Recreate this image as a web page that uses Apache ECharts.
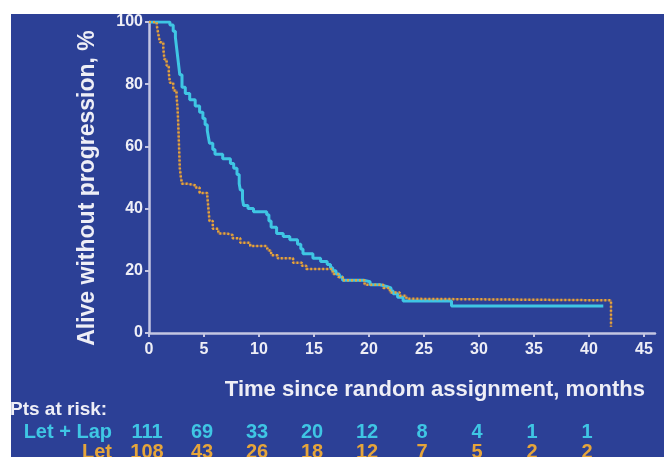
<!DOCTYPE html>
<html><head><meta charset="utf-8">
<script src="https://cdn.jsdelivr.net/npm/echarts@6/dist/echarts.min.js"></script>
<style>html,body{margin:0;padding:0;background:#fff;}#c{width:664px;height:457px;}</style>
</head><body><div id="c"></div>
<script>
// Kaplan-Meier curves: [months, % alive without progression]
var letLap = [[0,100],[1.6,100],[1.9,99],[2.2,97],[2.4,95],[2.5,92],[2.6,89],[2.7,86],[2.8,83],[3.0,79],[3.3,77],[3.7,75],[4.2,73],[4.6,71],[4.9,69],[5.1,67],[5.3,65],[5.4,63],[5.5,61],[5.8,59],[6.0,57.5],[6.7,56],[7.4,54.5],[7.7,53],[8.0,51],[8.2,48],[8.3,46],[8.5,43],[8.6,41],[9.0,40],[9.5,39],[10.7,38],[10.9,36],[11.1,34],[11.6,32],[12.2,31],[12.8,30],[13.5,28.5],[13.8,27],[14.0,25.5],[14.9,24],[15.6,23],[16.2,22],[16.5,21],[16.7,20],[17.0,19],[17.3,18],[17.6,17],[19.5,16.5],[20.1,15.5],[21.0,15],[21.6,14.5],[22.0,13.5],[22.2,12.6],[22.6,11.5],[23.1,10.3],[27.5,8.7],[41.3,8.7]];
var letOnly = [[0,100],[0.5,100],[0.7,99],[0.8,97],[0.9,95],[1.0,93.5],[1.3,91.5],[1.4,88],[1.6,86],[1.8,83.5],[1.9,80.5],[2.2,78],[2.5,76.5],[2.6,72],[2.65,68],[2.7,63],[2.75,58],[2.8,53],[2.9,50],[3.0,48],[3.5,47.5],[4.2,46.8],[4.6,45],[5.3,44],[5.4,40],[5.5,36],[5.8,33.5],[6.3,32],[7.1,31.5],[7.6,30.5],[8.3,29],[9.2,28],[10.7,28],[10.8,26.5],[11.1,25],[11.7,24],[13.1,22.6],[13.9,21.6],[14.3,20.6],[16.7,19],[17.2,18],[17.6,17],[19.6,15.5],[21.3,14.5],[21.9,13],[22.8,12],[23.4,11],[23.7,10.5],[42,10.5],[42,2]];
var riskMonths = [0,5,10,15,20,25,30,35,40];
var riskLetLap = [111,69,33,20,12,8,4,1,1];
var riskLet = [108,43,26,18,12,7,5,2,2];
var xTitle = 'Time since random assignment, months';
var yTitle = 'Alive without progression, %';

var FONT = '"Liberation Sans", Arial, sans-serif';
var BG = '#2c4096', CYAN = '#3fc6e4', ORANGE = '#e6a53a', AXIS = '#c4c6e2', TXT = '#eeeef6';
var chart = echarts.init(document.getElementById('c'));
var option = {
  backgroundColor: '#ffffff',
  animation: false,
  grid: {left: 149, right: 9, top: 22, bottom: 124},
  xAxis: {type: 'value', min: 0, max: 46, interval: 5,
    axisLine: {lineStyle: {color: AXIS, width: 2.5}},
    axisTick: {length: 4, lineStyle: {color: AXIS, width: 2}},
    axisLabel: {color: TXT, fontFamily: FONT, fontWeight: 'bold', fontSize: 16, margin: 9, showMaxLabel: false},
    splitLine: {show: false}},
  yAxis: {type: 'value', min: 0, max: 100, interval: 20,
    axisLine: {show: true, lineStyle: {color: AXIS, width: 2.5}},
    axisTick: {show: true, length: 4, lineStyle: {color: AXIS, width: 2}},
    axisLabel: {color: TXT, fontFamily: FONT, fontWeight: 'bold', fontSize: 16, margin: 6},
    splitLine: {show: false}},
  series: [
    {type: 'line', step: 'end', data: letOnly, symbol: 'none', z: 3,
      lineStyle: {color: '#9a6a55', width: 2, opacity: 0.6}},
    {type: 'line', step: 'end', data: letLap, symbol: 'none', z: 4,
      lineStyle: {color: CYAN, width: 3}},
    {type: 'line', step: 'end', data: letOnly, symbol: 'none', z: 5,
      lineStyle: {color: ORANGE, width: 2.5, type: [2, 2]}}
  ],
  graphic: []
};
chart.setOption(option);

var g = [{type: 'rect', z: -100, silent: true, shape: {x: 11, y: 14, width: 664 - 11, height: 457 - 14}, style: {fill: BG}}];
g.push({type: 'text', z: 10, x: 88, y: 188, rotation: Math.PI / 2,
  style: {text: yTitle, fill: TXT, font: 'bold 23px ' + FONT, textAlign: 'center', textVerticalAlign: 'middle'}});
g.push({type: 'text', z: 10, x: 645, y: 390,
  style: {text: xTitle, fill: TXT, font: 'bold 22px ' + FONT, textAlign: 'right', textVerticalAlign: 'middle'}});
g.push({type: 'text', z: 10, x: 10, y: 410,
  style: {text: 'Pts at risk:', fill: TXT, font: 'bold 19px ' + FONT, textAlign: 'left', textVerticalAlign: 'middle'}});
g.push({type: 'text', z: 10, x: 112, y: 432,
  style: {text: 'Let + Lap', fill: CYAN, font: 'bold 20px ' + FONT, textAlign: 'right', textVerticalAlign: 'middle'}});
g.push({type: 'text', z: 10, x: 112, y: 452,
  style: {text: 'Let', fill: ORANGE, font: 'bold 20px ' + FONT, textAlign: 'right', textVerticalAlign: 'middle'}});
riskMonths.forEach(function (m, i) {
  var px = chart.convertToPixel({xAxisIndex: 0}, m);
  g.push({type: 'text', z: 10, x: px - 2, y: 432,
    style: {text: String(riskLetLap[i]), fill: CYAN, font: 'bold 20px ' + FONT, textAlign: 'center', textVerticalAlign: 'middle'}});
  g.push({type: 'text', z: 10, x: px - 2, y: 452,
    style: {text: String(riskLet[i]), fill: ORANGE, font: 'bold 20px ' + FONT, textAlign: 'center', textVerticalAlign: 'middle'}});
});
chart.setOption({graphic: g});
</script></body></html>
